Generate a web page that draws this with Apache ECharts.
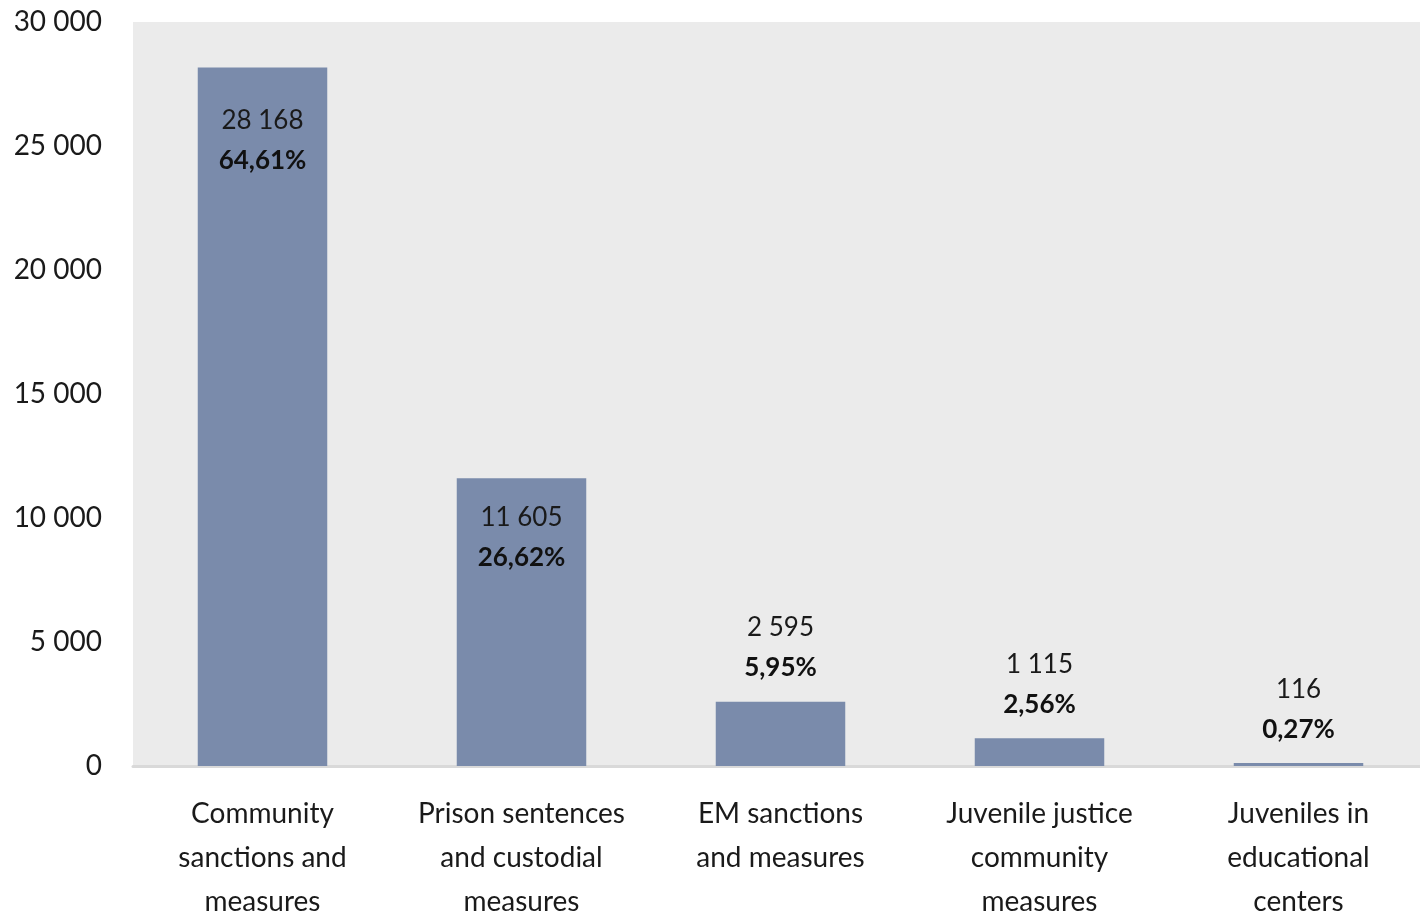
<!DOCTYPE html>
<html>
<head>
<meta charset="utf-8">
<script src="https://cdn.jsdelivr.net/npm/echarts@6/dist/echarts.min.js"></script>
<style>
html,body{margin:0;padding:0;background:#fff;}
#c{width:1420px;height:917px;}
</style>
</head>
<body>
<div id="c"></div>
<script>
const categories = [
  "Community\nsanctions and\nmeasures",
  "Prison sentences\nand custodial\nmeasures",
  "EM sanctions\nand measures",
  "Juvenile justice\ncommunity\nmeasures",
  "Juveniles in\neducational\ncenters"
];
const values = [28168, 11605, 2595, 1115, 116];
const percents = ["64,61%", "26,62%", "5,95%", "2,56%", "0,27%"];
const insideLabel = [true, true, false, false, false];
const yTicks = [0, 5000, 10000, 15000, 20000, 25000, 30000];

const FONT = 'Lato';
function fmt(n){ return String(n).replace(/\B(?=(\d{3})+(?!\d))/g, ' '); }
const insideDist = [33, 19];

const chart = echarts.init(document.getElementById('c'));
chart.setOption({
  animation: false,
  grid: { left: 133, top: 22, width: 1295, bottom: 151, backgroundColor: '#ebebeb', show: true, borderWidth: 0, outerBoundsMode: 'none', containLabel: false },
  xAxis: {
    type: 'category',
    data: categories,
    axisLine: { show: true, lineStyle: { color: '#d9d9d9', width: 3 } },
    axisTick: { show: false },
    axisLabel: { fontFamily: FONT, fontSize: 28, color: '#1a1a1a', lineHeight: 44, margin: 26, interval: 0 }
  },
  yAxis: {
    type: 'value',
    min: yTicks[0], max: yTicks[yTicks.length-1], interval: 5000,
    splitLine: { show: false },
    axisLine: { show: false },
    axisTick: { show: false },
    axisLabel: { fontFamily: FONT, fontSize: 28, color: '#1a1a1a', margin: 31, formatter: v => fmt(v) }
  },
  series: [{
    type: 'bar',
    barCategoryGap: '50%',
    itemStyle: { color: '#7a8bab' },
    data: values.map((v, i) => ({
      value: v,
      label: insideLabel[i]
        ? { position: 'insideTop', distance: insideDist[i] }
        : { position: 'top', distance: 14 }
    })),
    label: {
      show: true,
      fontFamily: FONT,
      formatter: p => '{a|' + fmt(p.value) + '}\n{b|' + percents[p.dataIndex] + '}',
      rich: {
        a: { fontFamily: FONT, fontSize: 26, color: '#1a1a1a', lineHeight: 40 },
        b: { fontFamily: FONT, fontSize: 26, fontWeight: 'bold', color: '#111', lineHeight: 40 }
      }
    }
  }]
});
</script>
</body>
</html>
